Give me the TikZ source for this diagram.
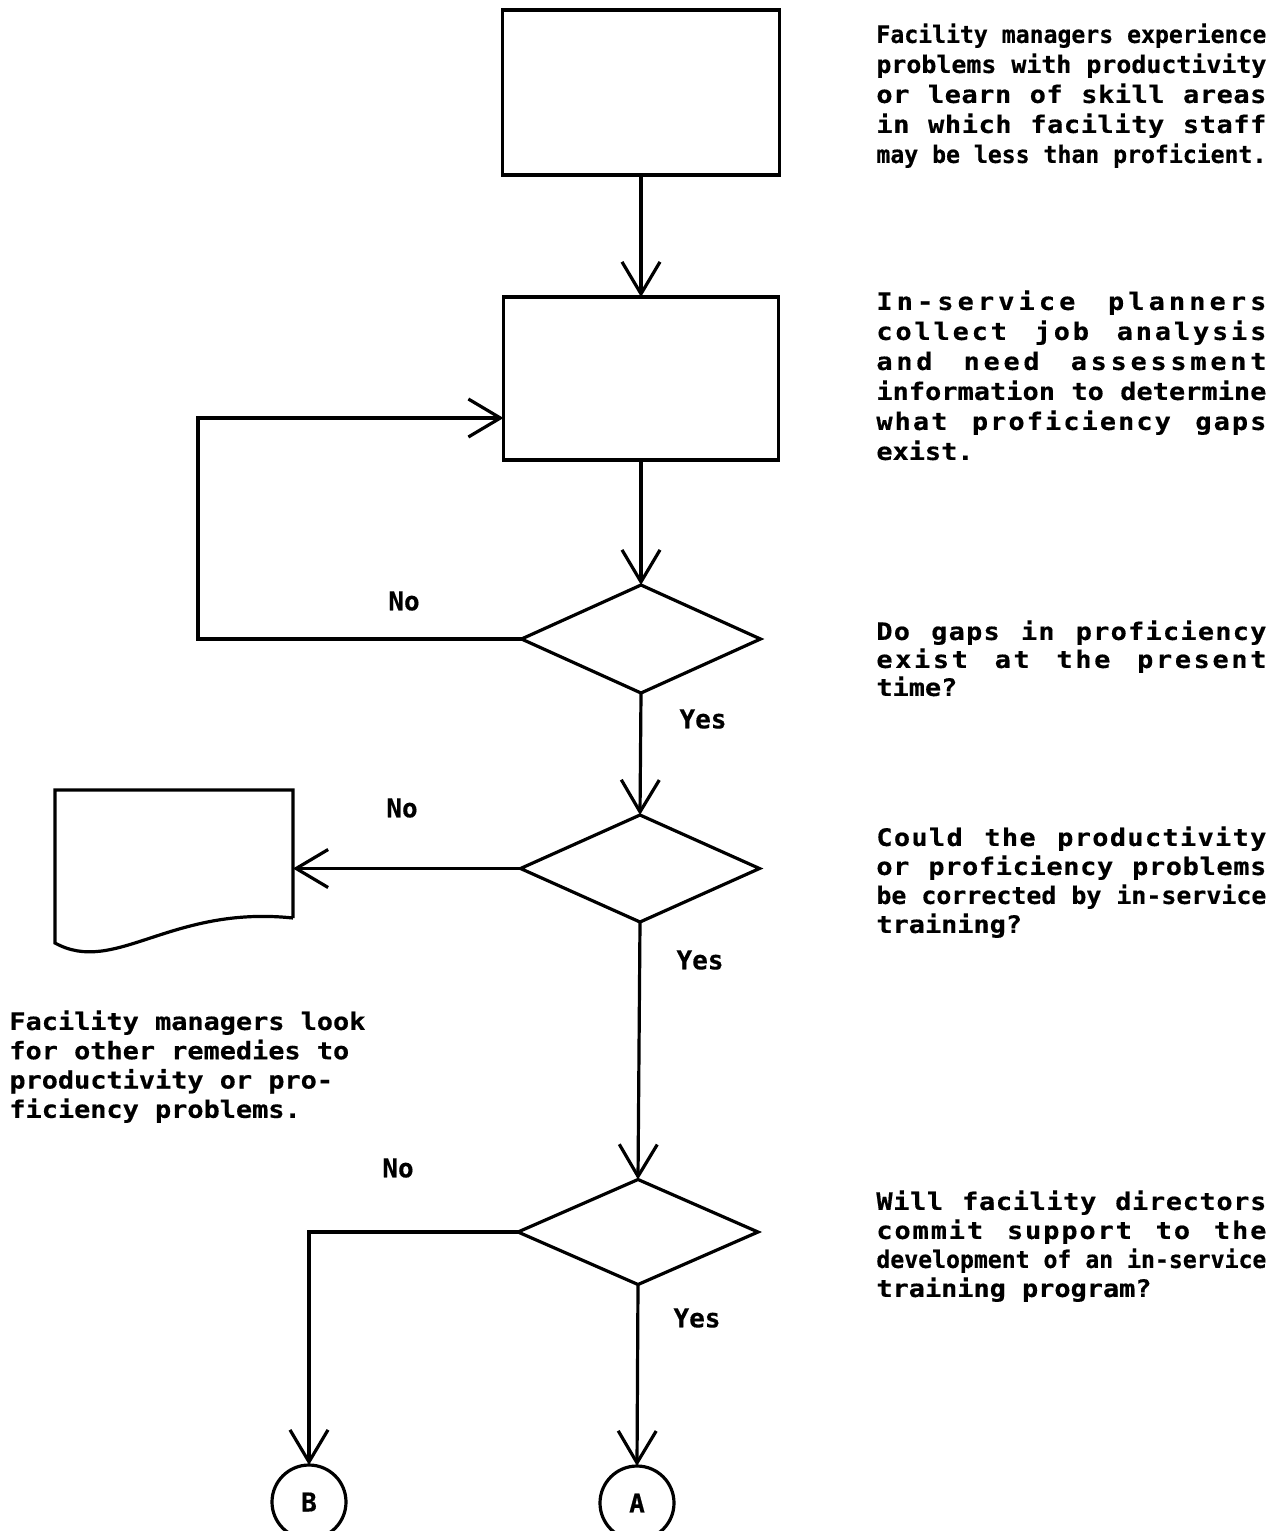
\documentclass[tikz,border=0pt]{standalone}
\usepackage{fontspec}
\usepackage{graphicx}
\usetikzlibrary{arrows.meta,shapes.geometric}

% typewriter-like bold face for all lettering
\newfontfamily\bodyfont[FakeStretch=1.12,FakeBold=0.5,BoldFont={DejaVu Sans Mono Bold}]{DejaVu Sans Mono}
\newfontfamily\labelfont[FakeBold=0.5,BoldFont={DejaVu Sans Mono Bold}]{DejaVu Sans Mono}

% one fully justified line of fixed width:
% short lines are spread (letters a little, word gaps more), long lines are condensed
\newlength\jw
\setlength\jw{195pt}
\newsavebox\jbox
\makeatletter
\def\jl@letters#1#2\@nil{#1\ifx\relax#2\relax\else\hskip0pt plus 1fil\relax\jl@letters#2\@nil\fi}
\def\jl@words#1 #2\@nil{\jl@letters#1\@nil
  \ifx\relax#2\relax\else\hskip\fontdimen2\font plus 4fil\relax\jl@words#2\@nil\fi}
\newcommand\jline[1]{\sbox\jbox{#1}%
  \ifdim\wd\jbox>\jw\relax
    \resizebox{\jw}{\ht\jbox}{\usebox\jbox}%
  \else
    \hbox to\jw{\jl@words#1 \@nil}%
  \fi}
\makeatother

\tikzset{
  procbox/.style={draw, rectangle, line width=1.6pt, inner sep=0pt, outer sep=0pt},
  decision/.style={draw, diamond, line width=1.6pt, inner sep=0pt, outer sep=0pt},
  connector/.style={draw, circle, line width=1.6pt, inner sep=0pt, outer sep=0pt,
    minimum size=37pt, font=\labelfont\bfseries\fontsize{13pt}{15pt}\selectfont},
  flow/.style={draw, line width=1.6pt, -{Straight Barb[length=16pt,width=19pt]}},
  answer/.style={inner sep=0pt, font=\labelfont\bfseries\fontsize{13pt}{15pt}\selectfont},
  note/.style={anchor=north west, inner sep=0pt, align=left},
}

\begin{document}
\begin{tikzpicture}[x=0.5pt, y=-0.5pt, line join=miter]
\useasboundingbox (0,0) rectangle (1277,1531);

% process boxes
\node[procbox, minimum width=138.5pt, minimum height=82.5pt] (box1) at (641,92.5) {};
\node[procbox, minimum width=137.5pt, minimum height=81.5pt] (box2) at (641,378.5) {};

% decisions
\node[decision, minimum width=119.5pt, minimum height=54pt] (d1) at (641,639) {};
\node[decision, minimum width=119.5pt, minimum height=53.5pt] (d2) at (640,868.5) {};
\node[decision, minimum width=120pt, minimum height=52.5pt] (d3) at (638,1232) {};

% document symbol (outline drawn below)
\node[inner sep=0pt, outer sep=0pt, minimum width=119pt, minimum height=77pt] (doc) at (174,867) {};
\draw[line width=1.6pt] (293,918) -- (293,790) -- (55,790) -- (55,943)
  .. controls (115,976) and (170,905) .. (293,918);

% off-page connectors
\node[connector] (B) at (309,1502) {B};
\node[connector] (A) at (637,1503) {A};

% loop-back corner
\coordinate (fb) at (198,418);

% connectors
\draw[flow] (box1.south) -- (box2.north);
\draw[flow] (box2.south) -- (d1.north);
\draw[flow] (d1.west) -| (fb) -- (fb -| box2.west);
\draw[flow] (d1.south) -- (d2.north);
\draw[flow] (d2.west) -- (d2.west -| doc.east);
\draw[flow] (d2.south) -- (d3.north);
\draw[flow] (d3.west) -| (B.north);
\draw[flow] (d3.south) -- (A.north);

% branch labels
\node[answer] (no1) at (404,601) {No};
\node[answer] (yes1) at (703,719) {Yes};
\node[answer] (no2) at (402,808) {No};
\node[answer] (yes2) at (700,960) {Yes};
\node[answer] (no3) at (398,1168) {No};
\node[answer] (yes3) at (697,1318) {Yes};

% step descriptions
\node[note, font=\bodyfont\bfseries\fontsize{12pt}{15pt}\selectfont] (t1) at (876,23) {%
\jline{Facility managers experience}\\
\jline{problems with productivity}\\
\jline{or learn of skill areas}\\
\jline{in which facility staff}\\
\jline{may be less than proficient.}};

\node[note, font=\bodyfont\bfseries\fontsize{12pt}{15pt}\selectfont] (t2) at (876,290) {%
\jline{In-service planners}\\
\jline{collect job analysis}\\
\jline{and need assessment}\\
\jline{information to determine}\\
\jline{what proficiency gaps}\\
exist.};

\node[note, font=\bodyfont\bfseries\fontsize{12pt}{14pt}\selectfont] (t3) at (876,620) {%
\jline{Do gaps in proficiency}\\
\jline{exist at the present}\\
time?};

\node[note, font=\bodyfont\bfseries\fontsize{12pt}{14.5pt}\selectfont] (t4) at (876,826) {%
\jline{Could the productivity}\\
\jline{or proficiency problems}\\
\jline{be corrected by in-service}\\
training?};

\node[note, font=\bodyfont\bfseries\fontsize{12pt}{14.5pt}\selectfont] (t5) at (876,1190) {%
\jline{Will facility directors}\\
\jline{commit support to the}\\
\jline{development of an in-service}\\
training program?};

\node[note, font=\bodyfont\bfseries\fontsize{12pt}{14.65pt}\selectfont] (t6) at (9,1010) {%
Facility managers look\\
for other remedies to\\
productivity or pro-\\
ficiency problems.};
\end{tikzpicture}
\end{document}
